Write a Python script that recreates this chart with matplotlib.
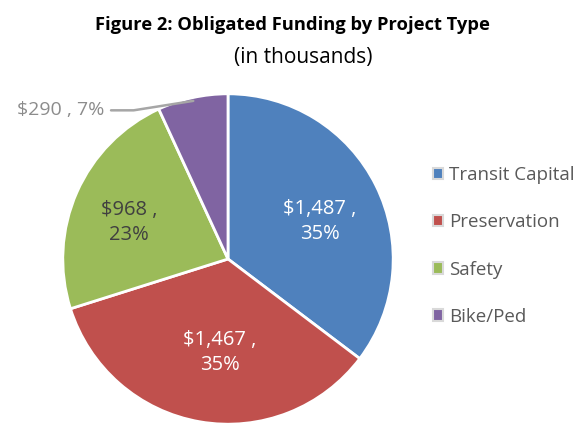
import numpy as np
import matplotlib
matplotlib.use("Agg")
import matplotlib.pyplot as plt

# Data (in thousands of dollars)
categories = ['Transit Capital', 'Preservation', 'Safety', 'Bike/Ped']
values = [1487, 1467, 968, 290]
value_labels = ['$1,487 ,\n35%', '$1,467 ,\n35%', '$968 ,\n23%', '$290 , 7%']
colors = ['#4F81BD', '#C0504D', '#9BBB59', '#8064A2']

plt.rcParams['font.family'] = ['Open Sans', 'DejaVu Sans']

fig = plt.figure(figsize=(5.88, 4.24), dpi=100)
fig.patch.set_facecolor('white')

# pie axes placed by pixel position (centre ~ (228, 259), radius ~165 px)
side = 337
ax = fig.add_axes([(228 - side / 2) / 588, (424 - 259 - side / 2) / 424,
                   side / 588, side / 424])
wedges, _ = ax.pie(values, colors=colors, startangle=90, counterclock=False,
                   radius=1.0, wedgeprops=dict(edgecolor='white', linewidth=2))
ax.set_xlim(-1.02, 1.02)
ax.set_ylim(-1.02, 1.02)
ax.set_aspect('equal')
ax.axis('off')

# labels inside the slices: (radial distance, angle tweak in degrees, colour)
label_layout = [(0.60, -4, 'white'), (0.57, 5, 'white'), (0.64, 3.5, '#404040')]
for w, lab, (d, dt, c) in zip(wedges[:3], value_labels[:3], label_layout):
    ang = np.deg2rad((w.theta1 + w.theta2) / 2 + dt)
    ax.text(d * np.cos(ang), d * np.sin(ang), lab, ha='center', va='center',
            color=c, fontsize=14.5, linespacing=1.35)

# small slice: outside label with leader line
w = wedges[3]
ang = np.deg2rad((w.theta1 + w.theta2) / 2)
ax.annotate(value_labels[3], xy=(0.98 * np.cos(ang), 0.98 * np.sin(ang)),
            xytext=(-0.75, 0.90), ha='right', va='center', color='#8C8C8C',
            fontsize=14, annotation_clip=False,
            arrowprops=dict(arrowstyle='-', color='#A6A6A6', lw=1.8,
                            connectionstyle='angle,angleA=0,angleB=9,rad=0',
                            shrinkA=3, shrinkB=0))

fig.text(292 / 588, 1 - 25 / 424, 'Figure 2: Obligated Funding by Project Type',
         ha='center', va='center', fontsize=13.2, fontweight='bold', color='black')
fig.text(303 / 588, 1 - 58 / 424, '(in thousands)', ha='center', va='center',
         fontsize=15, color='black')

leg = fig.legend(wedges, categories, loc='center left',
                 bbox_to_anchor=(416 / 588, 1 - 246 / 424), frameon=False,
                 fontsize=13.5, handlelength=0.55, handleheight=0.55,
                 handletextpad=0.3, labelspacing=1.55, labelcolor='#595959')
for h in leg.legend_handles:
    h.set_edgecolor('#D9D9D9')
    h.set_linewidth(1.5)

fig.savefig('out.png', dpi=100, facecolor='white')
